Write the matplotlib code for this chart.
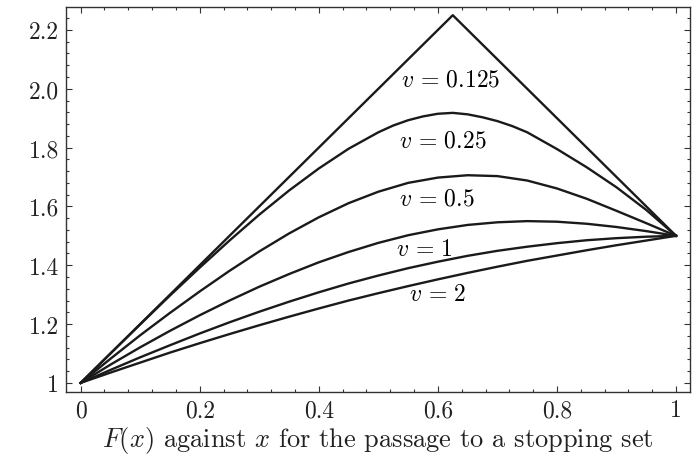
import matplotlib
matplotlib.use('Agg')
import matplotlib.pyplot as plt
from matplotlib.ticker import MultipleLocator

plt.rcParams['font.family'] = 'serif'
plt.rcParams['font.serif'] = ['cmr10']
plt.rcParams['mathtext.fontset'] = 'cm'
plt.rcParams['axes.formatter.use_mathtext'] = True

# v = 0.125 is the limiting triangle
x_tri = [0, 0.625, 1]
y_tri = [1, 2.25, 1.5]

x = [0, 0.05, 0.1, 0.15, 0.2, 0.25, 0.3, 0.35, 0.4, 0.45, 0.5,
     0.55, 0.6, 0.65, 0.7, 0.75, 0.8, 0.85, 0.9, 0.95, 1.0]

# v = 0.25 bends sharply near its top, so it gets more points there
x_025 = [0, 0.05, 0.1, 0.15, 0.2, 0.25, 0.3, 0.35, 0.4, 0.45, 0.5, 0.525,
         0.55, 0.575, 0.6, 0.625, 0.65, 0.675, 0.7, 0.725, 0.75, 0.8,
         0.85, 0.9, 0.95, 1.0]
y_025 = [1, 1.1, 1.199, 1.297, 1.392, 1.484, 1.572, 1.654, 1.729, 1.796, 1.852, 1.875,
         1.893, 1.906, 1.915, 1.918, 1.913, 1.903, 1.89, 1.873, 1.852, 1.795,
         1.733, 1.665, 1.588, 1.5]
y_05 = [1, 1.082, 1.162, 1.238, 1.311, 1.381, 1.447, 1.508, 1.563, 1.611, 1.65,
        1.68, 1.698, 1.706, 1.703, 1.688, 1.661, 1.626, 1.585, 1.543, 1.5]
y_1 = [1, 1.062, 1.121, 1.177, 1.23, 1.28, 1.327, 1.37, 1.41, 1.445, 1.476,
       1.502, 1.522, 1.537, 1.546, 1.55, 1.548, 1.541, 1.53, 1.516, 1.5]
y_mid = [1, 1.044, 1.087, 1.128, 1.168, 1.206, 1.242, 1.276, 1.308, 1.338, 1.365,
         1.39, 1.412, 1.432, 1.449, 1.463, 1.475, 1.485, 1.492, 1.497, 1.5]
y_2 = [1, 1.035, 1.069, 1.103, 1.135, 1.166, 1.196, 1.225, 1.253, 1.28, 1.305,
       1.329, 1.352, 1.374, 1.395, 1.415, 1.433, 1.451, 1.468, 1.484, 1.5]

curve_labels = [r'$v\,=\,0.125$', r'$v\,=\,0.25$', r'$v\,=\,0.5$', r'$v\,=\,1$', r'$v\,=\,2$']
label_x = [0.622, 0.609, 0.599, 0.577, 0.599]
label_y = [2.032, 1.825, 1.627, 1.457, 1.304]

xticks = [0, 0.2, 0.4, 0.6, 0.8, 1]
xtick_labels = ['0', '0.2', '0.4', '0.6', '0.8', '1']
yticks = [1, 1.2, 1.4, 1.6, 1.8, 2.0, 2.2]
ytick_labels = ['1', '1.2', '1.4', '1.6', '1.8', '2.0', '2.2']

fig = plt.figure(figsize=(6.93, 4.60), dpi=100)
ax = fig.add_axes([0.0952, 0.145, 0.9005, 0.837])

line_col = '#1a1a1a'
ax.plot(x_tri, y_tri, color=line_col, lw=1.7)
ax.plot(x_025, y_025, color=line_col, lw=1.7)
for ys in [y_05, y_1, y_mid, y_2]:
    ax.plot(x, ys, color=line_col, lw=1.7)

for t, lx, ly in zip(curve_labels, label_x, label_y):
    ax.text(lx, ly, t, fontsize=17, ha='center', va='center')

ax.set_xlim(-0.0247, 1.0235)
ax.set_ylim(0.968, 2.277)
ax.set_xticks(xticks)
ax.set_xticklabels(xtick_labels)
ax.set_yticks(yticks)
ax.set_yticklabels(ytick_labels)
ax.xaxis.set_minor_locator(MultipleLocator(0.04))
ax.yaxis.set_minor_locator(MultipleLocator(0.04))
ax.tick_params(which='both', direction='in', top=True, right=True,
               color='#333333', width=0.8, labelsize=17, labelcolor='#222222')
ax.tick_params(which='major', length=4.5, pad=5)
ax.tick_params(which='minor', length=2.5)
for s in ax.spines.values():
    s.set_linewidth(1.0)
    s.set_color('#333333')

fig.text(0.5455, 0.029, '$F(x)$ against $x$ for the passage to a stopping set',
         fontsize=19, ha='center', va='baseline', color='#222222')

fig.savefig('out.png', dpi=100)
